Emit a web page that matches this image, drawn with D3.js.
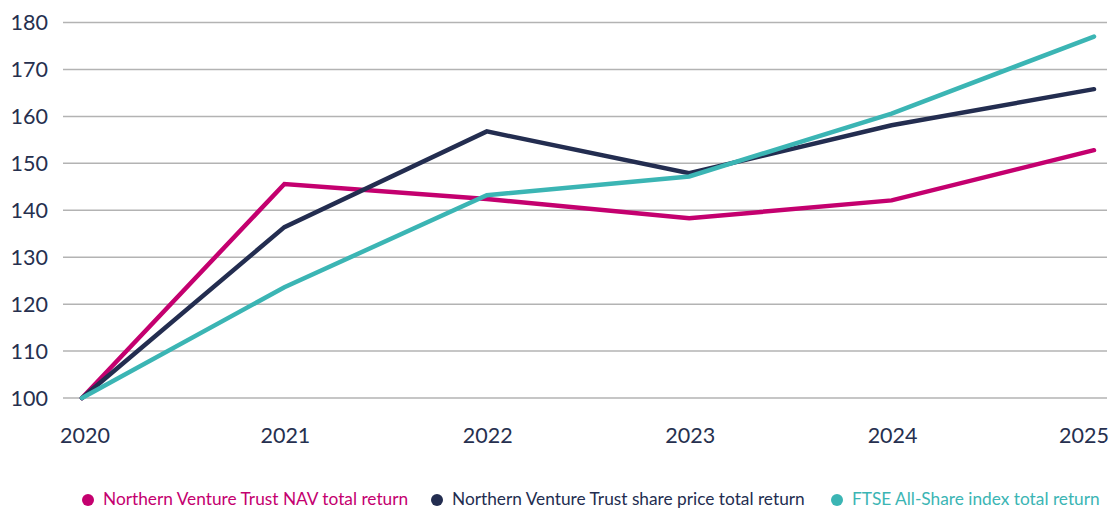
<!DOCTYPE html>
<html>
<head>
<meta charset="utf-8">
<script src="https://cdn.jsdelivr.net/npm/d3@7"></script>
<style>
  body { margin: 0; background: #fff; }
  svg { display: block; font-family: "Source Sans Pro", Lato, "Open Sans", sans-serif; }
</style>
</head>
<body>
<svg id="chart"></svg>
<script>
const years = [2020, 2021, 2022, 2023, 2024, 2025];
const navReturn = [100, 145.6, 142.4, 138.3, 142.1, 152.8];
const shareReturn = [100, 136.4, 156.8, 147.9, 158.1, 165.8];
const ftseReturn = [100, 123.6, 143.2, 147.2, 160.6, 177.0];
const yTicks = [100, 110, 120, 130, 140, 150, 160, 170, 180];

const seriesNames = [
    "Northern Venture Trust NAV total return",
    "Northern Venture Trust share price total return",
    "FTSE All-Share index total return"
];

const colors = ["#c4006f", "#232d50", "#3bb5b4"];
const textColor = "#26304f";

const width = 1112;
const height = 510;

const svg = d3.select('#chart').attr('width', width).attr('height', height);

const xScale = d3.scalePoint().domain(years).range([82, 1094]);
const yScale = d3.scaleLinear().domain([100, 180]).range([398, 22.5]);

// gridlines
svg.append('g')
    .selectAll('line')
    .data(yTicks)
    .enter()
    .append('line')
    .attr('x1', 63)
    .attr('x2', 1107)
    .attr('y1', d => yScale(d))
    .attr('y2', d => yScale(d))
    .attr('stroke', '#b3b3b3')
    .attr('stroke-width', 1.5);

// y labels
svg.append('g')
    .selectAll('text')
    .data(yTicks)
    .enter()
    .append('text')
    .attr('x', 48)
    .attr('y', d => yScale(d))
    .attr('dy', '0.35em')
    .attr('text-anchor', 'end')
    .attr('font-size', '21.5px')
    .attr('fill', textColor)
    .text(d => d);

// x labels
svg.append('g')
    .selectAll('text')
    .data(years)
    .enter()
    .append('text')
    .attr('x', (d, i) => i === 0 ? 85 : (i === years.length - 1 ? 1109 : xScale(d) + 1))
    .attr('y', 443)
    .attr('text-anchor', (d, i) => i === years.length - 1 ? 'end' : 'middle')
    .attr('font-size', '21.5px')
    .attr('fill', textColor)
    .text(d => d);

const line = d3.line()
    .x((d, i) => xScale(years[i]))
    .y(d => yScale(d));

[navReturn, shareReturn, ftseReturn].forEach((values, k) => {
    svg.append('path')
        .datum(values)
        .attr('fill', 'none')
        .attr('stroke', colors[k])
        .attr('stroke-width', 4.5)
        .attr('stroke-linecap', 'round')
        .attr('stroke-linejoin', 'miter')
        .attr('d', line);
});

// legend
const legendX = [88, 437, 837];
const legend = svg.append('g');
seriesNames.forEach((name, i) => {
    legend.append('circle')
        .attr('cx', legendX[i])
        .attr('cy', 500)
        .attr('r', 6)
        .attr('fill', colors[i]);
    legend.append('text')
        .attr('x', legendX[i] + 15)
        .attr('y', 505)
        .attr('font-size', '17.3px')
        .attr('fill', colors[i])
        .text(name);
});
</script>
</body>
</html>
